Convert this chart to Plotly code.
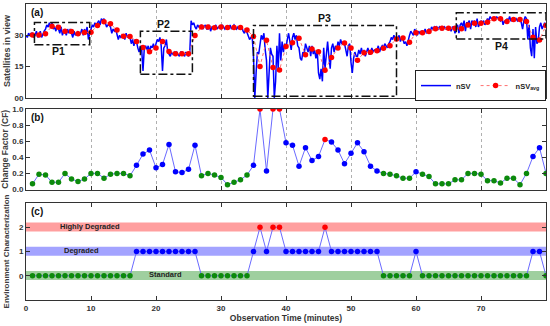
import plotly.graph_objects as go

# ---------------- data ----------------
minutes = list(range(1, 81))

# nSV sampled every 12 s (5 samples per minute), minute 0..79, plus final value at t=80
nsv_by_minute = [
    [30, 29, 31, 30, 31], [31, 29, 30, 32, 29], [30, 32, 29, 31, 32], [33, 35, 34, 36, 34],
    [36, 33, 34, 32, 35], [33, 31, 34, 30, 32], [32, 30, 33, 31, 33], [31, 29, 32, 30, 31],
    [32, 30, 31, 33, 30], [33, 31, 34, 28, 31], [33, 35, 34, 36, 35], [36, 37, 35, 38, 37],
    [38, 36, 34, 35, 35], [34, 31, 33, 32, 33], [31, 28, 30, 29, 30], [30, 28, 31, 29, 30],
    [29, 26, 28, 25, 28], [27, 24, 22, 25, 23], [13, 24, 25, 23, 25], [22, 25, 24, 26, 23],
    [26, 28, 27, 29, 25], [13, 24, 25, 28, 22], [21, 20, 22, 21, 22], [21, 22, 21, 20, 22],
    [22, 21, 20, 22, 21], [20, 22, 37, 35, 36], [34, 33, 35, 34, 34], [35, 33, 34, 35, 33],
    [33, 35, 32, 34, 34], [34, 35, 33, 34, 34], [33, 35, 34, 33, 34], [34, 33, 35, 33, 34],
    [35, 34, 33, 34, 33], [33, 34, 32, 31, 33], [31, 30, 28, 29, 29], [20, 0, 12, 22, 21],
    [26, 30, 28, 31, 23], [18, 0, 10, 24, 21], [20, 0, 8, 25, 14], [31, 18, 27, 22, 26],
    [24, 28, 31, 27, 23], [29, 31, 28, 30, 25], [24, 19, 18, 22, 21], [26, 24, 22, 25, 20],
    [25, 21, 23, 19, 23], [12, 9, 14, 8, 24], [14, 22, 27, 20, 14], [24, 26, 22, 25, 23],
    [27, 25, 28, 26, 26], [26, 23, 20, 25, 26], [17, 12, 19, 22, 20], [20, 23, 21, 24, 21],
    [23, 20, 22, 24, 21], [21, 24, 22, 23, 23], [23, 25, 22, 24, 25], [24, 26, 25, 24, 26],
    [27, 29, 28, 30, 28], [29, 28, 30, 27, 29], [28, 26, 27, 25, 28], [30, 32, 31, 30, 33],
    [31, 30, 32, 31, 32], [32, 31, 33, 31, 32], [33, 32, 34, 33, 34], [33, 34, 33, 34, 33],
    [34, 33, 34, 33, 33], [33, 34, 32, 34, 34], [31, 34, 35, 31, 35], [36, 34, 37, 32, 36],
    [36, 37, 33, 37, 36], [37, 34, 38, 34, 36], [37, 36, 37, 35, 37], [38, 37, 39, 38, 38],
    [38, 37, 39, 38, 38], [37, 38, 35, 37, 36], [38, 37, 39, 37, 37], [38, 37, 38, 37, 38],
    [38, 36, 33, 37, 39], [38, 28, 35, 24, 20], [33, 19, 34, 26, 27], [34, 36, 33, 35, 36],
]
nsv_last = 34

nsv_avg = [30.2, 30.2, 30.8, 34.4, 33.9, 32.0, 31.8, 30.7, 31.3, 31.5,
           34.7, 36.5, 35.5, 32.6, 29.6, 29.5, 27.1, 24.2, 22.1, 23.9,
           27.0, 22.3, 21.2, 21.2, 21.2, 29.9, 34.0, 34.0, 33.6, 34.0,
           33.8, 33.8, 33.8, 32.6, 29.4, 15.1, 27.6, 14.6, 13.4, 24.7,
           26.5, 28.6, 20.7, 23.4, 22.1, 13.3, 19.4, 23.9, 26.3, 23.9,
           18.1, 21.7, 21.9, 22.6, 23.8, 25.0, 28.3, 28.7, 26.7, 31.2,
           31.2, 31.8, 33.1, 33.4, 33.4, 33.4, 33.1, 35.0, 35.8, 35.8,
           36.3, 37.9, 37.9, 36.6, 37.6, 37.6, 36.6, 29.1, 27.8, 34.7]

change_factor = [0.07, 0.19, 0.18, 0.09, 0.09, 0.20, 0.13, 0.10, 0.13, 0.20,
                 0.20, 0.14, 0.19, 0.20, 0.20, 0.17, 0.30, 0.44, 0.49, 0.27,
                 0.31, 0.56, 0.22, 0.21, 0.25, 0.55, 0.17, 0.20, 0.18, 0.15,
                 0.06, 0.09, 0.12, 0.18, 0.30, 1.00, 0.23, 1.00, 1.00, 0.58,
                 0.55, 0.29, 0.52, 0.36, 0.41, 0.62, 0.59, 0.49, 0.32, 0.45,
                 0.58, 0.47, 0.29, 0.23, 0.20, 0.19, 0.17, 0.14, 0.14, 0.22,
                 0.19, 0.16, 0.07, 0.07, 0.07, 0.12, 0.12, 0.20, 0.20, 0.19,
                 0.11, 0.11, 0.08, 0.14, 0.14, 0.06, 0.20, 0.41, 0.52, 0.20]

env_class = [0] * 16 + [1] * 10 + [0] * 8 + [1, 2, 1, 2, 2] + [1] * 6 + [2] + [1] * 8 \
    + [0] * 5 + [1] + [0] * 17 + [1, 1, 0]

class_names = ["Standard", "Degraded", "Highly Degraded"]
class_colors = ["#0c8a0c", "#0000ff", "#ff0000"]
band_colors = ["#9fcf9f", "#a3a3ff", "#ff9f9f"]
band_label_x = [21.4, 8.6, 9.8]

x_ticks = list(range(0, 81, 10))

# sample times of nSV (regular 12-second sampling)
nsv = [v for row in nsv_by_minute for v in row] + [nsv_last]
nsv_time = [i / 5 for i in range(len(nsv))]

# ---------------- figure ----------------
FONT = "Arial, Liberation Sans, sans-serif"
pt_colors = [class_colors[c] for c in env_class]

fig = go.Figure()
fig.add_trace(go.Scatter(x=nsv_time, y=nsv, mode="lines", name="nSV",
                         line=dict(color="#0000ff", width=1.5), xaxis="x", yaxis="y"))
fig.add_trace(go.Scatter(x=minutes, y=nsv_avg, mode="lines+markers", name="nSV<sub>avg</sub>",
                         line=dict(color="#ff7070", width=1, dash="dot"),
                         marker=dict(color="#ff0000", size=5.5), xaxis="x", yaxis="y"))
fig.add_trace(go.Scatter(x=minutes, y=change_factor, mode="lines+markers", showlegend=False,
                         line=dict(color="#6a6aff", width=1),
                         marker=dict(color=pt_colors, size=5.5), xaxis="x2", yaxis="y2"))
fig.add_trace(go.Scatter(x=minutes, y=env_class, mode="lines+markers", showlegend=False,
                         line=dict(color="#6a6aff", width=1),
                         marker=dict(color=pt_colors, size=5.5), xaxis="x3", yaxis="y3"))

tickfont = dict(family=FONT, size=8, color="#333333")

def xax(anchor, show_labels, grid, title=None):
    d = dict(anchor=anchor, domain=[0, 1], range=[0, 80], tickvals=x_ticks,
             showticklabels=show_labels, ticks="inside", ticklen=4, tickcolor="#333",
             showline=True, linecolor="#333", linewidth=1, mirror="ticks",
             showgrid=grid, gridcolor="#b0b0b0", griddash="dot", gridwidth=1,
             zeroline=False, tickfont=tickfont, automargin=False)
    if title:
        d["title"] = dict(text=title, font=dict(family=FONT, size=8.5, color="#333"), standoff=1)
    return d

def yax(anchor, domain, rng, tickvals, ticktext, title, standoff, tsize):
    return dict(anchor=anchor, domain=domain, range=rng, tickvals=tickvals, ticktext=ticktext,
                ticks="inside", ticklen=4, tickcolor="#333", showline=True, linecolor="#333",
                linewidth=1, mirror="ticks", showgrid=False, zeroline=False, tickfont=tickfont,
                automargin=False,
                title=dict(text=title, font=dict(family=FONT, size=tsize, color="#404040"),
                           standoff=standoff))

fig.update_layout(
    width=550, height=326,
    margin=dict(l=26, r=4, t=4, b=26),
    paper_bgcolor="white", plot_bgcolor="white",
    font=dict(family=FONT, color="#333", weight="bold"),
    xaxis=xax("y", False, True),
    xaxis2=xax("y2", False, True),
    xaxis3=xax("y3", True, False, "Observation Time (minutes)"),
    yaxis=yax("x", [0.6824, 1.0], [0, 45], [0, 15, 30, 45], ["00", "15", "30", "45"],
              "Satellites in view", 2, 9),
    yaxis2=yax("x2", [0.3733, 0.6453], [0, 1.0], [0, 0.2, 0.4, 0.6, 0.8, 1.0],
               ["0.0", "0.2", "0.4", "0.6", "0.8", "1.0"], "Change Factor (CF)", 2, 8.5),
    yaxis3=yax("x3", [0.0, 0.3277], [-1, 3], [0, 1, 2], ["0", "1", "2"],
               "Environment Characterization", 8, 8),
    legend=dict(x=1.0, xanchor="right", y=0.672, yanchor="bottom", orientation="h",
                bgcolor="white", bordercolor="#222", borderwidth=1,
                font=dict(family=FONT, size=7.5, color="#222"), itemwidth=30,
                tracegroupgap=0),
)

# environment bands
for lvl, (name, col, lx) in enumerate(zip(class_names, band_colors, band_label_x)):
    fig.add_shape(type="rect", xref="x3", yref="y3", x0=0, x1=80, y0=lvl - 0.18, y1=lvl + 0.2,
                  fillcolor=col, line=dict(width=0), layer="below")
    fig.add_annotation(x=lx, y=lvl + 0.05, xref="x3", yref="y3", text=f"<b>{name}</b>",
                       showarrow=False, font=dict(family=FONT, size=7.5, color="#222"))

# period boxes in panel (a)
boxes = [("P1", 1.3, 9.8, 25.5, 36.1, 5.0, 22.3),
         ("P2", 17.6, 25.6, 11.4, 32.0, 21.2, 35.5),
         ("P3", 35.0, 57.0, 0.9, 34.7, 45.9, 38.4),
         ("P4", 66.2, 80.0, 28.3, 40.8, 73.1, 25.0)]
for name, x0, x1, y0, y1, lx, ly in boxes:
    fig.add_shape(type="rect", xref="x", yref="y", x0=x0, x1=x1, y0=y0, y1=y1,
                  line=dict(color="#111", width=1.5, dash="dashdot"))
    fig.add_annotation(x=lx, y=ly, xref="x", yref="y", text=f"<b>{name}</b>", showarrow=False,
                       font=dict(family=FONT, size=10.5, color="#111"))

# panel letters
for lab, xr, yr in [("(a)", "x domain", "y domain"), ("(b)", "x2 domain", "y2 domain"),
                    ("(c)", "x3 domain", "y3 domain")]:
    fig.add_annotation(x=0.005, y=0.99, xref=xr, yref=yr, xanchor="left", yanchor="top",
                       text=f"<b>{lab}</b>", showarrow=False,
                       font=dict(family=FONT, size=10, color="#111"))

fig.write_html("out.html", config={"displayModeBar": False},
               post_script="document.body.style.margin='0';")
